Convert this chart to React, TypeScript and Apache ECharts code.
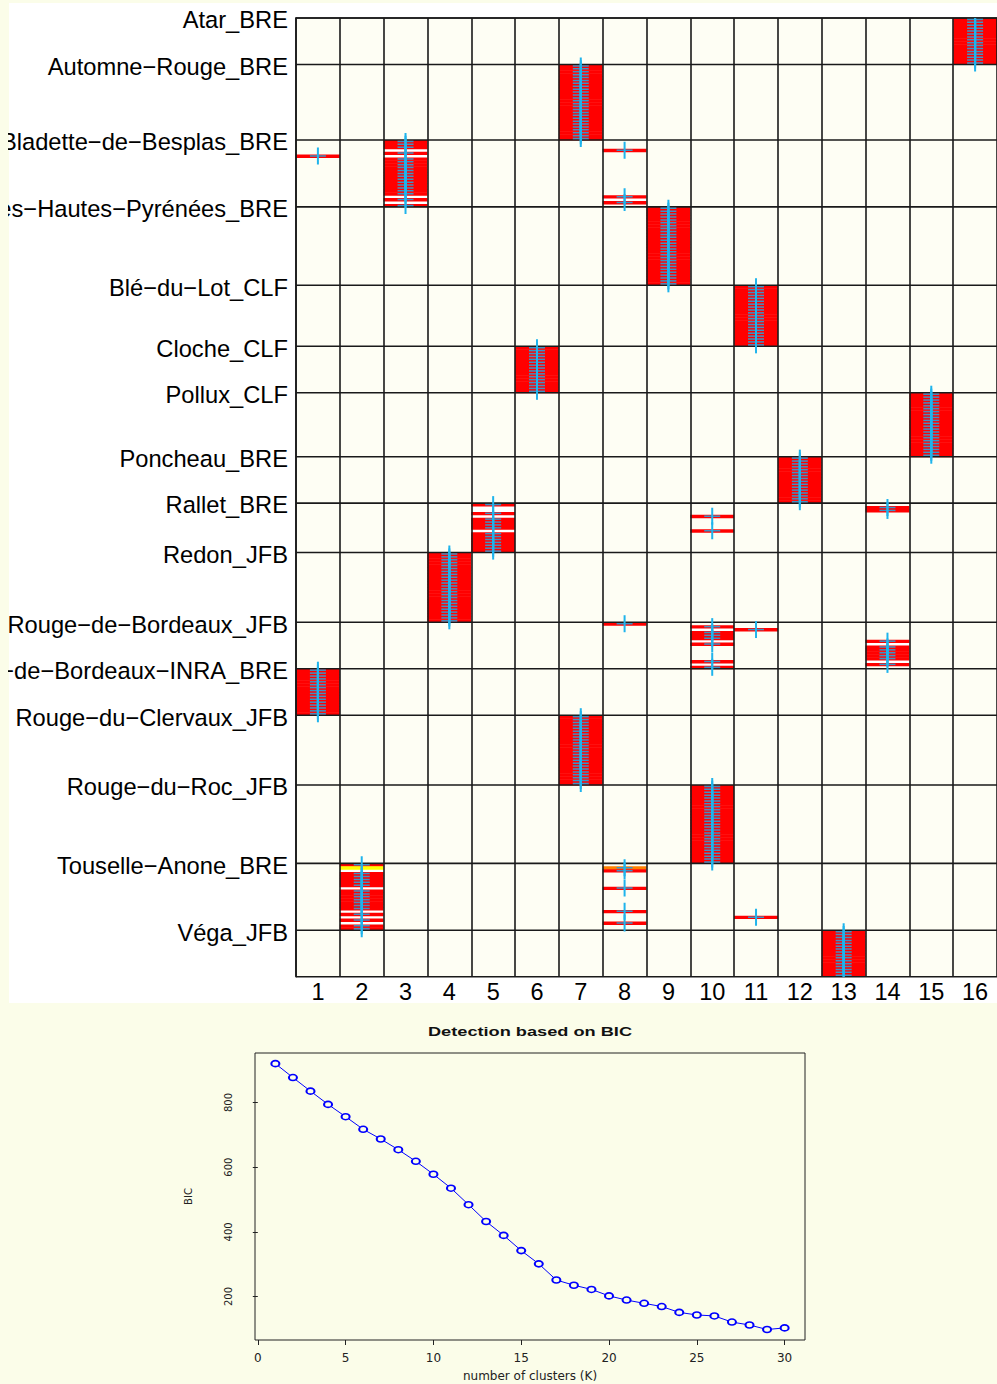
import React, { useEffect, useRef } from "react";
import * as echarts from "echarts";

// ---------------- DATA ----------------
const varieties = [
  "Atar_BRE",
  "Automne−Rouge_BRE",
  "Bladette−de−Besplas_BRE",
  "Blanc−des−Hautes−Pyrénées_BRE",
  "Blé−du−Lot_CLF",
  "Cloche_CLF",
  "Pollux_CLF",
  "Poncheau_BRE",
  "Rallet_BRE",
  "Redon_JFB",
  "Rouge−de−Bordeaux_JFB",
  "Rouge−de−Bordeaux−INRA_BRE",
  "Rouge−du−Clervaux_JFB",
  "Rouge−du−Roc_JFB",
  "Touselle−Anone_BRE",
  "Véga_JFB",
];

const clusterLabels = ["1", "2", "3", "4", "5", "6", "7", "8", "9", "10", "11", "12", "13", "14", "15", "16"];

// For each variety, top to bottom: runs of [assigned cluster, number of individuals]
const assignmentRuns: number[][][] = [
  [[16, 16]],
  [[7, 26]],
  [[3, 3], [8, 1], [3, 1], [1, 1], [3, 13], [8, 1], [3, 1], [8, 1], [3, 1]],
  [[9, 27]],
  [[11, 21]],
  [[6, 16]],
  [[15, 22]],
  [[12, 16]],
  [[5, 1], [14, 2], [5, 1], [10, 1], [5, 4], [10, 1], [5, 7]],
  [[4, 24]],
  [[8, 1], [10, 1], [11, 1], [10, 3], [14, 1], [10, 1], [14, 5], [10, 1], [14, 1], [10, 1]],
  [[1, 16]],
  [[7, 24]],
  [[10, 27]],
  [[2, 1], [8, 2], [2, 5], [8, 1], [2, 7], [8, 1], [2, 1], [11, 1], [2, 1], [8, 1], [2, 2]],
  [[13, 16]],
];

// individuals with shared membership: variety index, row in variety, [cluster, probability] pairs
const partialMemberships = [
  { variety: 14, row: 1, shares: [[8, 0.6], [2, 0.35]] },
];

const bicK = [1, 2, 3, 4, 5, 6, 7, 8, 9, 10, 11, 12, 13, 14, 15, 16, 17, 18, 19, 20, 21, 22, 23, 24, 25, 26, 27, 28, 29, 30];
const bicValues = [920, 877, 835, 794, 756, 717, 687, 654, 618, 578, 535, 484, 432, 389, 342, 301, 251, 235, 222, 202, 189, 179, 169, 151, 143, 140, 121, 112, 98, 103];
const bicXTicks = [0, 5, 10, 15, 20, 25, 30];
const bicYTicks = [200, 400, 600, 800];

// ---------------- STYLE ----------------
const PAGE_BG = "#FBFDE9";
const CELL_BG = "#FEFEF4";
const HEAT = ["#FF0000", "#FF8000", "#FFFF00", "#FFFFFF"];
const LINE = "#1a1a1a";
const FONT = "'Liberation Sans', Arial, sans-serif";
const FONT2 = "'DejaVu Sans', Verdana, sans-serif";
const LABEL_SHIFT = 0.8; // optical shift of variety names below their boundary (rows)

function heatIndex(p: number) {
  return p >= 0.75 ? 0 : p >= 0.5 ? 1 : p >= 0.3 ? 2 : 3;
}

function buildStructure() {
  const starts: number[] = [];
  const individuals: { v: number; row: number; y: number; cluster: number }[] = [];
  let y = 0;
  assignmentRuns.forEach((runs, v) => {
    starts.push(y);
    let row = 0;
    runs.forEach(([c, n]) => {
      for (let i = 0; i < n; i++) {
        individuals.push({ v, row, y: y + row, cluster: c });
        row++;
      }
    });
    y += row;
  });
  const total = y;

  const colored: number[][] = [];
  const occupied = new Set<string>();
  individuals.forEach((ind) => {
    const pm = partialMemberships.find((p) => p.variety === ind.v && p.row === ind.row);
    if (pm) {
      pm.shares.forEach(([c, p]) => {
        colored.push([c - 1, ind.y, heatIndex(p)]);
        occupied.add(`${c}_${ind.y}`);
      });
    } else {
      colored.push([ind.cluster - 1, ind.y, 0]);
      occupied.add(`${ind.cluster}_${ind.y}`);
    }
  });

  // weak memberships (white) inside a variety
  const whites: number[][] = [];
  varieties.forEach((_, v) => {
    const inds = individuals.filter((i) => i.v === v);
    const n = inds.length;
    const base = starts[v];
    const byCluster = new Map<number, Set<number>>();
    inds.forEach((i) => {
      if (!byCluster.has(i.cluster)) byCluster.set(i.cluster, new Set());
      byCluster.get(i.cluster)!.add(i.row);
    });
    byCluster.forEach((rows, c) => {
      const arr = Array.from(rows);
      const lo = Math.min(...arr);
      const hi = Math.max(...arr);
      const dominant = rows.size >= 0.6 * n;
      for (let r = lo + 1; r < hi; r++) {
        if (rows.has(r) || occupied.has(`${c}_${base + r}`)) continue;
        if (dominant || (rows.has(r - 1) && rows.has(r + 1))) {
          whites.push([c - 1, base + r, 3]);
        }
      }
    });
  });

  const boundaries = starts.concat([total]);
  return { starts, individuals, total, cells: whites.concat(colored), boundaries };
}

export default function App() {
  const ref = useRef<HTMLDivElement>(null);

  useEffect(() => {
    if (!ref.current) return;
    const chart = echarts.init(ref.current, undefined, { renderer: "svg" });
    const { starts, individuals, total, cells, boundaries } = buildStructure();
    const labelPositions = starts.map((s) => s + LABEL_SHIFT);
    const nameAt = (v: number) => {
      let best = 0;
      labelPositions.forEach((p, i) => {
        if (Math.abs(p - v) < Math.abs(labelPositions[best] - v)) best = i;
      });
      return varieties[best];
    };

    const option: any = {
      animation: false,
      backgroundColor: PAGE_BG,
      graphic: [
        { type: "rect", z: -10, shape: { x: 9, y: 3, width: 988, height: 1000 }, style: { fill: "#FFFFFF" } },
        { type: "rect", z: 100, shape: { x: 0, y: 0, width: 8, height: 1010 }, style: { fill: PAGE_BG } },
        {
          type: "text",
          z: 10,
          x: 530,
          y: 1031,
          scaleX: 1.4,
          style: {
            text: "Detection based on BIC",
            align: "center",
            verticalAlign: "middle",
            fontSize: 13,
            fontWeight: "bold",
            fontFamily: FONT,
            fill: "#111",
          },
        },
      ],
      grid: [
        { left: 296, top: 18, width: 701, height: 958.7, show: true, backgroundColor: CELL_BG, borderWidth: 0, outerBoundsMode: "none", containLabel: false },
        { left: 255, top: 1053, width: 550, height: 287, show: true, backgroundColor: "transparent", borderColor: "#222", borderWidth: 1, outerBoundsMode: "none", containLabel: false },
      ],
      xAxis: [
        {
          type: "value",
          gridIndex: 0,
          min: 0,
          max: 16,
          interval: 1,
          z: 3,
          axisLine: { show: true, lineStyle: { color: LINE, width: 1.6 } },
          axisTick: { show: false },
          splitLine: { show: true, lineStyle: { color: LINE, width: 1.6 } },
          axisLabel: {
            customValues: clusterLabels.map((_, i) => i + 0.5),
            formatter: (v: number) => clusterLabels[Math.floor(v)] ?? "",
            fontSize: 23.5,
            fontFamily: FONT,
            color: "#000",
            margin: 3,
          },
        },
        {
          type: "value",
          gridIndex: 1,
          min: -0.16,
          max: 31.16,
          axisLine: { show: false },
          axisTick: { show: true, customValues: bicXTicks, length: 5, lineStyle: { color: "#222" } },
          splitLine: { show: false },
          axisLabel: { customValues: bicXTicks, fontSize: 12, fontFamily: FONT2, color: "#222", margin: 12 },
          name: "number of clusters (K)",
          nameLocation: "middle",
          nameGap: 30,
          nameTextStyle: { fontSize: 12, fontFamily: FONT2, color: "#222" },
        },
      ],
      yAxis: [
        {
          type: "value",
          gridIndex: 0,
          inverse: true,
          min: 0,
          max: total,
          z: 3,
          axisLine: { show: true, lineStyle: { color: LINE, width: 1.6 } },
          axisTick: { show: false },
          splitLine: { show: false },
          axisLabel: {
            customValues: labelPositions,
            formatter: (v: number) => nameAt(v),
            fontSize: 23.7,
            fontFamily: FONT,
            color: "#000",
            margin: 8,
          },
        },
        {
          type: "value",
          gridIndex: 1,
          min: 65.6,
          max: 952.9,
          axisLine: { show: false },
          axisTick: { show: true, customValues: bicYTicks, length: 5, lineStyle: { color: "#222" } },
          splitLine: { show: false },
          axisLabel: { customValues: bicYTicks, rotate: 90, fontSize: 10, fontFamily: FONT2, color: "#222", margin: 22 },
          name: "BIC",
          nameLocation: "middle",
          nameRotate: 90,
          nameGap: 62,
          nameTextStyle: { fontSize: 10, fontFamily: FONT2, color: "#222" },
        },
      ],
      series: [
        {
          type: "custom",
          name: "cells",
          xAxisIndex: 0,
          yAxisIndex: 0,
          z: 2,
          clip: true,
          encode: { x: 0, y: 1 },
          data: cells,
          renderItem: (_p: any, api: any) => {
            const x = api.value(0);
            const y = api.value(1);
            const a = api.coord([x, y]);
            const b = api.coord([x + 1, y + 1]);
            const extra = api.value(2) === 3 ? 0 : 0.5;
            return {
              type: "rect",
              shape: { x: a[0], y: a[1], width: b[0] - a[0], height: b[1] - a[1] + extra },
              style: { fill: HEAT[api.value(2)] },
            };
          },
        },
        {
          type: "custom",
          name: "groupLines",
          xAxisIndex: 0,
          yAxisIndex: 0,
          z: 4,
          clip: false,
          encode: { x: 0, y: 1 },
          data: boundaries.map((b) => [0, b]),
          renderItem: (_p: any, api: any) => {
            const a = api.coord([0, api.value(1)]);
            const b = api.coord([16, api.value(1)]);
            return {
              type: "line",
              shape: { x1: a[0], y1: a[1], x2: b[0], y2: b[1] },
              style: { stroke: LINE, lineWidth: 1.6 },
            };
          },
        },
        {
          type: "custom",
          name: "plusH",
          xAxisIndex: 0,
          yAxisIndex: 0,
          z: 6,
          clip: true,
          encode: { x: 0, y: 1 },
          data: individuals.map((i) => [i.cluster - 0.5, i.y + 0.5]),
          renderItem: (_p: any, api: any) => {
            const c = api.coord([api.value(0), api.value(1)]);
            return {
              type: "line",
              shape: { x1: c[0] - 8, y1: c[1], x2: c[0] + 8, y2: c[1] },
              style: { stroke: "#3D93C6", lineWidth: 1.5 },
            };
          },
        },
        {
          type: "custom",
          name: "plusV",
          xAxisIndex: 0,
          yAxisIndex: 0,
          z: 7,
          clip: true,
          encode: { x: 0, y: 1 },
          data: individuals.map((i) => [i.cluster - 0.5, i.y + 0.5]),
          renderItem: (_p: any, api: any) => {
            const c = api.coord([api.value(0), api.value(1)]);
            return {
              type: "line",
              shape: { x1: c[0], y1: c[1] - 8.5, x2: c[0], y2: c[1] + 8.5 },
              style: { stroke: "#1FB4EC", lineWidth: 2 },
            };
          },
        },
        {
          type: "line",
          name: "BIC",
          xAxisIndex: 1,
          yAxisIndex: 1,
          data: bicK.map((k, i) => [k, bicValues[i]]),
          showAllSymbol: true,
          symbol: "path://M0,5A5,5,0,1,1,10,5A5,5,0,1,1,0,5Z",
          symbolKeepAspect: false,
          symbolSize: [8, 6],
          itemStyle: { color: PAGE_BG, borderColor: "#0000FF", borderWidth: 1.8 },
          lineStyle: { color: "#0000FF", width: 1 },
          z: 3,
        },
      ],
    };

    chart.setOption(option);
    return () => chart.dispose();
  }, []);

  return (
    <div
      ref={ref}
      style={{ position: "absolute", left: 0, top: 0, width: 997, height: 1384 }}
    />
  );
}
